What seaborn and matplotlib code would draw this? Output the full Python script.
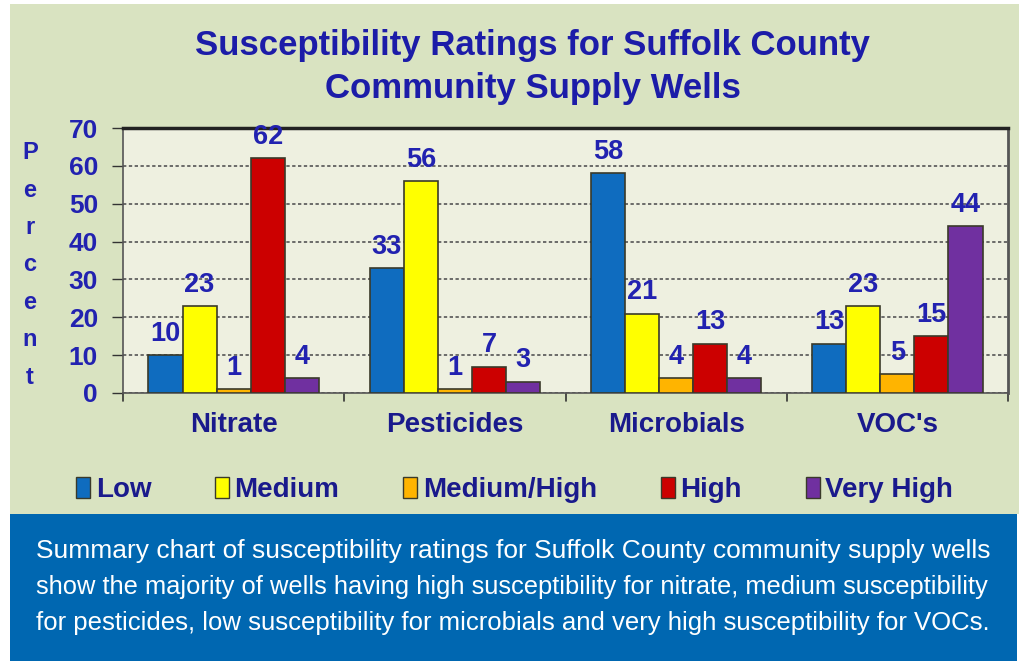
import pandas as pd
import numpy as np
import matplotlib
matplotlib.use('Agg')
import matplotlib.pyplot as plt
import seaborn as sns
from matplotlib.patches import Rectangle

# datos del grafico
contaminantes = ['Nitrate', 'Pesticides', 'Microbials', "VOC's"]
niveles = ['Low', 'Medium', 'Medium/High', 'High', 'Very High']
low = [10, 33, 58, 13]
medium = [23, 56, 21, 23]
medium_high = [1, 1, 4, 5]
high = [62, 7, 13, 15]
very_high = [4, 3, 4, 44]
colores = ['#0f6cbf', '#ffff00', '#ffb400', '#cc0000', '#7030a0']
y_ticks = [0, 10, 20, 30, 40, 50, 60, 70]

titulo = 'Susceptibility Ratings for Suffolk County\nCommunity Supply Wells'
pie = ['Summary chart of susceptibility ratings for Suffolk County community supply wells',
       'show the majority of wells having high susceptibility for nitrate, medium susceptibility',
       'for pesticides, low susceptibility for microbials and very high susceptibility for VOCs.']

valores = [low, medium, medium_high, high, very_high]
df = pd.DataFrame({
    'contaminante': contaminantes * len(niveles),
    'nivel': np.repeat(niveles, len(contaminantes)),
    'percent': np.concatenate(valores),
})

sns.set_style('white')
plt.rcParams['font.family'] = ['Liberation Sans', 'DejaVu Sans']

W, H = 1019, 661
fig = plt.figure(figsize=(W / 100, H / 100), dpi=100, facecolor='white')

# fondo verde y caja azul
fig.patches.append(Rectangle((10 / W, 1 - 514 / H), 1 - 10 / W, (514 - 4) / H,
                             transform=fig.transFigure, facecolor='#d9e3c1', edgecolor='none', zorder=-2))
fig.patches.append(Rectangle((10 / W, 0), 1 - 12 / W, 1 - 514 / H,
                             transform=fig.transFigure, facecolor='#0067b1', edgecolor='none', zorder=-2))

ax = fig.add_axes([123 / W, 1 - 393 / H, (1008 - 123) / W, (393 - 128) / H])
ax.set_facecolor('#eef0e0')

sns.barplot(data=df, x='contaminante', y='percent', hue='nivel', hue_order=niveles,
            order=contaminantes, palette=colores, saturation=1, width=0.77, gap=0, ax=ax,
            edgecolor='#3a3a2a', linewidth=1.2, legend=False, zorder=3)

azul = '#2222b0'
navy = '#1a1a8c'
for cont in ax.containers:
    ax.bar_label(cont, fmt='%d', padding=6, color=azul, fontsize=19.5, fontweight='bold')

ax.set_ylim(0, 70)
ax.set_yticks(y_ticks)
ax.set_yticklabels([str(t) for t in y_ticks], color=azul, fontsize=19, fontweight='bold')
ax.tick_params(axis='y', length=8, width=1, color='#333333', pad=10, direction='out', left=True)
ax.set_xticks(range(len(contaminantes)))
ax.set_xticklabels(contaminantes, color=navy, fontsize=20, fontweight='bold')
ax.tick_params(axis='x', length=0, pad=14)
# marcas entre grupos
for xb in [-0.5, 0.5, 1.5, 2.5, 3.5]:
    ax.plot([xb, xb], [0, -2.2], color='#333333', lw=1.2, clip_on=False)
ax.set_xlim(-0.5, 3.5)
ax.set_xlabel('')
ax.set_ylabel('')
ax.yaxis.grid(True, linestyle=(0, (2, 1.5)), color='#555555', linewidth=1.2, zorder=0)
ax.set_axisbelow(True)
for lado in ['left', 'bottom']:
    ax.spines[lado].set_color('#555555')
    ax.spines[lado].set_linewidth(1.2)
ax.spines['top'].set_color('#222222')
ax.spines['top'].set_linewidth(2.5)
ax.spines['right'].set_color('#555555')
ax.spines['right'].set_linewidth(2)

fig.text(0.523, 1 - 67 / H, titulo, ha='center', va='center', fontsize=25,
         fontweight='bold', color='#1c1ca8', linespacing=1.35)
fig.text(30 / W, 1 - 265 / H, '\n'.join('Percent'), ha='center', va='center',
         fontsize=17, fontweight='bold', color=azul, linespacing=1.8)

# leyenda
handles = [Rectangle((0, 0), 1, 1, facecolor=c, edgecolor='#3a3a2a', linewidth=1) for c in colores]
leg = fig.legend(handles, niveles, loc='center', bbox_to_anchor=(0.505, 1 - 490 / H), ncol=5,
                 frameon=False, handlelength=0.5, handleheight=0.8, handletextpad=0.2,
                 columnspacing=2.3, prop={'size': 20, 'weight': 'bold'})
for t in leg.get_texts():
    t.set_color(navy)

# texto del recuadro azul, cada linea ajustada al ancho
renderer = fig.canvas.get_renderer()
ancho = 990 - 36
for i, linea in enumerate(pie):
    txt = fig.text(36 / W, 1 - (551 + i * 36) / H, linea, ha='left', va='center',
                   fontsize=19, color='white')
    w = txt.get_window_extent(renderer).width
    txt.set_fontsize(19 * ancho / w)

fig.savefig('out.png', dpi=100, facecolor='white')
